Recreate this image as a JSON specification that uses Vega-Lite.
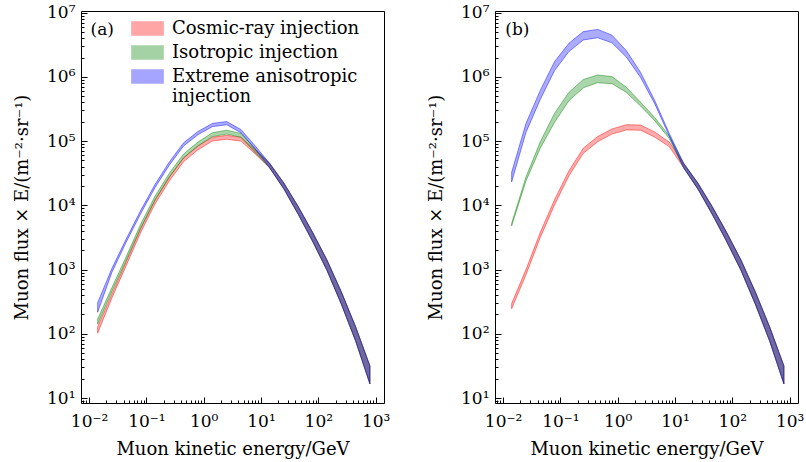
{
"$schema": "https://vega.github.io/schema/vega-lite/v6.json",
"padding": {"left": 13, "top": 3, "right": 5, "bottom": 5},
"spacing": 36,
"config": {
  "font": "DejaVu Serif",
  "view": {"stroke": "black", "strokeWidth": 1},
  "axis": {"grid": false, "domain": false, "labelFont": "DejaVu Serif", "labelFontSize": 17, "titleFont": "DejaVu Serif", "titleFontSize": 18, "titleFontWeight": "normal", "labelColor": "black", "titleColor": "black", "tickColor": "black", "tickWidth": 1, "labelOverlap": false, "labelFlush": false, "labelBound": false},
  "legend": {"labelFont": "DejaVu Serif", "labelFontSize": 18, "labelColor": "black"}
},
"datasets": {
"A": [
{"series":"Cosmic-ray injection","E":0.01413,"lower":102.3,"upper":128.8},
{"series":"Cosmic-ray injection","E":0.02512,"lower":363.1,"upper":416.9},
{"series":"Cosmic-ray injection","E":0.04467,"lower":1161,"upper":1334},
{"series":"Cosmic-ray injection","E":0.07943,"lower":3750,"upper":4305},
{"series":"Cosmic-ray injection","E":0.1413,"lower":10471,"upper":12023},
{"series":"Cosmic-ray injection","E":0.2512,"lower":23988,"upper":27542},
{"series":"Cosmic-ray injection","E":0.4467,"lower":47863,"upper":54954},
{"series":"Cosmic-ray injection","E":0.7943,"lower":73282,"upper":84140},
{"series":"Cosmic-ray injection","E":1.413,"lower":100000,"upper":114800},
{"series":"Cosmic-ray injection","E":2.512,"lower":107150,"upper":123030},
{"series":"Cosmic-ray injection","E":4.467,"lower":100000,"upper":114800},
{"series":"Cosmic-ray injection","E":7.943,"lower":63096,"upper":72440},
{"series":"Cosmic-ray injection","E":14.13,"lower":38500,"upper":45200},
{"series":"Cosmic-ray injection","E":25.12,"lower":17990,"upper":22130},
{"series":"Cosmic-ray injection","E":44.67,"lower":7244,"upper":9550},
{"series":"Cosmic-ray injection","E":79.43,"lower":2754,"upper":3802},
{"series":"Cosmic-ray injection","E":141.3,"lower":977,"upper":1413},
{"series":"Cosmic-ray injection","E":251.2,"lower":291.7,"upper":451.9},
{"series":"Cosmic-ray injection","E":446.7,"lower":77.6,"upper":128.8},
{"series":"Cosmic-ray injection","E":794.3,"lower":16.6,"upper":31.6},
{"series":"Isotropic injection","E":0.01413,"lower":141.3,"upper":169.8},
{"series":"Isotropic injection","E":0.02512,"lower":457.1,"upper":524.8},
{"series":"Isotropic injection","E":0.04467,"lower":1396,"upper":1603},
{"series":"Isotropic injection","E":0.07943,"lower":4406,"upper":5058},
{"series":"Isotropic injection","E":0.1413,"lower":12023,"upper":13804},
{"series":"Isotropic injection","E":0.2512,"lower":27542,"upper":31623},
{"series":"Isotropic injection","E":0.4467,"lower":54954,"upper":63096},
{"series":"Isotropic injection","E":0.7943,"lower":84140,"upper":96605},
{"series":"Isotropic injection","E":1.413,"lower":117490,"upper":134900},
{"series":"Isotropic injection","E":2.512,"lower":128800,"upper":147900},
{"series":"Isotropic injection","E":4.467,"lower":114800,"upper":131800},
{"series":"Isotropic injection","E":7.943,"lower":66070,"upper":75860},
{"series":"Isotropic injection","E":14.13,"lower":38500,"upper":45200},
{"series":"Isotropic injection","E":25.12,"lower":17990,"upper":22130},
{"series":"Isotropic injection","E":44.67,"lower":7244,"upper":9550},
{"series":"Isotropic injection","E":79.43,"lower":2754,"upper":3802},
{"series":"Isotropic injection","E":141.3,"lower":977,"upper":1413},
{"series":"Isotropic injection","E":251.2,"lower":291.7,"upper":451.9},
{"series":"Isotropic injection","E":446.7,"lower":77.6,"upper":128.8},
{"series":"Isotropic injection","E":794.3,"lower":16.6,"upper":31.6},
{"series":"Extreme anisotropic injection","E":0.01413,"lower":216.3,"upper":305.5},
{"series":"Extreme anisotropic injection","E":0.02512,"lower":912,"upper":1047},
{"series":"Extreme anisotropic injection","E":0.04467,"lower":2692,"upper":3020},
{"series":"Extreme anisotropic injection","E":0.07943,"lower":7396,"upper":8299},
{"series":"Extreme anisotropic injection","E":0.1413,"lower":18836,"upper":21135},
{"series":"Extreme anisotropic injection","E":0.2512,"lower":42170,"upper":47315},
{"series":"Extreme anisotropic injection","E":0.4467,"lower":84140,"upper":94406},
{"series":"Extreme anisotropic injection","E":0.7943,"lower":125900,"upper":141250},
{"series":"Extreme anisotropic injection","E":1.413,"lower":167900,"upper":188400},
{"series":"Extreme anisotropic injection","E":2.512,"lower":179900,"upper":201800},
{"series":"Extreme anisotropic injection","E":4.467,"lower":134900,"upper":151400},
{"series":"Extreme anisotropic injection","E":7.943,"lower":74990,"upper":84140},
{"series":"Extreme anisotropic injection","E":14.13,"lower":38500,"upper":45200},
{"series":"Extreme anisotropic injection","E":25.12,"lower":17990,"upper":22130},
{"series":"Extreme anisotropic injection","E":44.67,"lower":7244,"upper":9550},
{"series":"Extreme anisotropic injection","E":79.43,"lower":2754,"upper":3802},
{"series":"Extreme anisotropic injection","E":141.3,"lower":977,"upper":1413},
{"series":"Extreme anisotropic injection","E":251.2,"lower":291.7,"upper":451.9},
{"series":"Extreme anisotropic injection","E":446.7,"lower":77.6,"upper":128.8},
{"series":"Extreme anisotropic injection","E":794.3,"lower":16.6,"upper":31.6}
],
"B": [
{"series":"Cosmic-ray injection","E":0.01413,"lower":245.5,"upper":295.1},
{"series":"Cosmic-ray injection","E":0.02512,"lower":831.8,"upper":1000},
{"series":"Cosmic-ray injection","E":0.04467,"lower":3162,"upper":3802},
{"series":"Cosmic-ray injection","E":0.07943,"lower":10233,"upper":12303},
{"series":"Cosmic-ray injection","E":0.1413,"lower":28840,"upper":34674},
{"series":"Cosmic-ray injection","E":0.2512,"lower":64565,"upper":77625},
{"series":"Cosmic-ray injection","E":0.4467,"lower":97724,"upper":117490},
{"series":"Cosmic-ray injection","E":0.7943,"lower":128800,"upper":154900},
{"series":"Cosmic-ray injection","E":1.413,"lower":149600,"upper":179900},
{"series":"Cosmic-ray injection","E":2.512,"lower":147900,"upper":177800},
{"series":"Cosmic-ray injection","E":4.467,"lower":114800,"upper":138000},
{"series":"Cosmic-ray injection","E":7.943,"lower":82220,"upper":96605},
{"series":"Cosmic-ray injection","E":14.13,"lower":38500,"upper":45200},
{"series":"Cosmic-ray injection","E":25.12,"lower":17990,"upper":22130},
{"series":"Cosmic-ray injection","E":44.67,"lower":7244,"upper":9550},
{"series":"Cosmic-ray injection","E":79.43,"lower":2754,"upper":3802},
{"series":"Cosmic-ray injection","E":141.3,"lower":977,"upper":1413},
{"series":"Cosmic-ray injection","E":251.2,"lower":291.7,"upper":451.9},
{"series":"Cosmic-ray injection","E":446.7,"lower":77.6,"upper":128.8},
{"series":"Cosmic-ray injection","E":794.3,"lower":16.6,"upper":31.6},
{"series":"Isotropic injection","E":0.01413,"lower":4786,"upper":5248},
{"series":"Isotropic injection","E":0.02512,"lower":23988,"upper":27542},
{"series":"Isotropic injection","E":0.04467,"lower":77625,"upper":97724},
{"series":"Isotropic injection","E":0.07943,"lower":197200,"upper":272300},
{"series":"Isotropic injection","E":0.1413,"lower":426600,"upper":575400},
{"series":"Isotropic injection","E":0.2512,"lower":676100,"upper":912000},
{"series":"Isotropic injection","E":0.4467,"lower":812800,"upper":1071500},
{"series":"Isotropic injection","E":0.7943,"lower":785200,"upper":1011600},
{"series":"Isotropic injection","E":1.413,"lower":575400,"upper":691800},
{"series":"Isotropic injection","E":2.512,"lower":350800,"upper":402700},
{"series":"Isotropic injection","E":4.467,"lower":206500,"upper":231700},
{"series":"Isotropic injection","E":7.943,"lower":109600,"upper":120200},
{"series":"Isotropic injection","E":14.13,"lower":38500,"upper":45200},
{"series":"Isotropic injection","E":25.12,"lower":17990,"upper":22130},
{"series":"Isotropic injection","E":44.67,"lower":7244,"upper":9550},
{"series":"Isotropic injection","E":79.43,"lower":2754,"upper":3802},
{"series":"Isotropic injection","E":141.3,"lower":977,"upper":1413},
{"series":"Isotropic injection","E":251.2,"lower":291.7,"upper":451.9},
{"series":"Isotropic injection","E":446.7,"lower":77.6,"upper":128.8},
{"series":"Isotropic injection","E":794.3,"lower":16.6,"upper":31.6},
{"series":"Extreme anisotropic injection","E":0.01413,"lower":23174,"upper":32734},
{"series":"Extreme anisotropic injection","E":0.02512,"lower":136460,"upper":188360},
{"series":"Extreme anisotropic injection","E":0.04467,"lower":446700,"upper":616600},
{"series":"Extreme anisotropic injection","E":0.07943,"lower":1258900,"upper":1737800},
{"series":"Extreme anisotropic injection","E":0.1413,"lower":2483000,"upper":3350000},
{"series":"Extreme anisotropic injection","E":0.2512,"lower":3758000,"upper":5070000},
{"series":"Extreme anisotropic injection","E":0.4467,"lower":4074000,"upper":5495000},
{"series":"Extreme anisotropic injection","E":0.7943,"lower":3388000,"upper":4467000},
{"series":"Extreme anisotropic injection","E":1.413,"lower":2042000,"upper":2570000},
{"series":"Extreme anisotropic injection","E":2.512,"lower":977200,"upper":1175000},
{"series":"Extreme anisotropic injection","E":4.467,"lower":375800,"upper":421700},
{"series":"Extreme anisotropic injection","E":7.943,"lower":120200,"upper":131800},
{"series":"Extreme anisotropic injection","E":14.13,"lower":38500,"upper":45200},
{"series":"Extreme anisotropic injection","E":25.12,"lower":17990,"upper":22130},
{"series":"Extreme anisotropic injection","E":44.67,"lower":7244,"upper":9550},
{"series":"Extreme anisotropic injection","E":79.43,"lower":2754,"upper":3802},
{"series":"Extreme anisotropic injection","E":141.3,"lower":977,"upper":1413},
{"series":"Extreme anisotropic injection","E":251.2,"lower":291.7,"upper":451.9},
{"series":"Extreme anisotropic injection","E":446.7,"lower":77.6,"upper":128.8},
{"series":"Extreme anisotropic injection","E":794.3,"lower":16.6,"upper":31.6}
]
},
"resolve": {"scale": {"color": "independent", "stroke": "independent"}},
"hconcat": [
{
  "width": 303, "height": 392,
  "resolve": {"axis": {"x": "independent", "y": "independent"}},
  "layer": [
    {
      "data": {"name": "A"},
      "mark": {"type": "area", "fillOpacity": 0.33, "strokeOpacity": 0.45, "strokeWidth": 1},
      "encoding": {
        "x": {"field": "E", "type": "quantitative", "scale": {"type": "log", "domain": [0.00724, 1400], "nice": false},
          "axis": {"orient": "bottom", "title": "Muon kinetic energy/GeV", "titlePadding": 11,
            "values": [0.01,0.1,1,10,100,1000],
            "labelExpr": "datum.value==0.01?'10⁻²':datum.value==0.1?'10⁻¹':datum.value==1?'10⁰':datum.value==10?'10¹':datum.value==100?'10²':'10³'",
            "tickSize": -6, "labelPadding": 16}},
        "y": {"field": "upper", "type": "quantitative", "scale": {"type": "log", "domain": [8.36, 10620000], "nice": false},
          "axis": {"orient": "left", "title": "Muon flux × E/(m⁻²·sr⁻¹)", "titlePadding": 15,
            "values": [10,100,1000,10000,100000,1000000,10000000],
            "labelExpr": "datum.value==10?'10¹':datum.value==100?'10²':datum.value==1000?'10³':datum.value==10000?'10⁴':datum.value==100000?'10⁵':datum.value==1000000?'10⁶':'10⁷'",
            "tickSize": -6, "labelPadding": 12}},
        "y2": {"field": "lower"},
        "color": {"field": "series", "type": "nominal",
          "scale": {"domain": ["Cosmic-ray injection", "Isotropic injection", "Extreme anisotropic injection"], "range": ["#ff0000", "#008000", "#0000ff"]},
          "legend": {"orient": "none", "legendX": 57, "legendY": 8, "title": null, "symbolType": "M-1.8,-0.75H1.8V0.75H-1.8Z", "symbolSize": 300, "symbolOpacity": 0.35, "labelOffset": 15, "rowPadding": 5, "labelLimit": 400, "labelFontSize": 18,
            "labelExpr": "datum.label=='Extreme anisotropic injection'?['Extreme anisotropic','injection']:datum.label"}},
        "stroke": {"field": "series", "type": "nominal",
          "scale": {"domain": ["Cosmic-ray injection", "Isotropic injection", "Extreme anisotropic injection"], "range": ["#ff0000", "#008000", "#0000ff"]},
          "legend": {"orient": "none", "legendX": 57, "legendY": 8, "title": null, "symbolType": "M-1.8,-0.75H1.8V0.75H-1.8Z", "symbolSize": 300, "symbolOpacity": 0.35, "labelOffset": 15, "rowPadding": 5, "labelLimit": 400, "labelFontSize": 18,
            "labelExpr": "datum.label=='Extreme anisotropic injection'?['Extreme anisotropic','injection']:datum.label"}}
      }
    },
    {
      "data": {"values": [{"tag": "(a)"}]},
      "mark": {"type": "text", "fontSize": 17, "font": "DejaVu Serif", "color": "black", "align": "center", "baseline": "middle"},
      "encoding": {
        "x": {"datum": 0.017, "type": "quantitative",
          "axis": {"orient": "bottom", "title": null, "labels": false, "tickSize": -3,
            "values": [0.008,0.009,0.02,0.03,0.04,0.05,0.06,0.07,0.08,0.09,0.2,0.3,0.4,0.5,0.6,0.7,0.8,0.9,2,3,4,5,6,7,8,9,20,30,40,50,60,70,80,90,200,300,400,500,600,700,800,900]}},
        "y": {"datum": 5400000, "type": "quantitative",
          "axis": {"orient": "left", "title": null, "labels": false, "tickSize": -3,
            "values": [9,20,30,40,50,60,70,80,90,200,300,400,500,600,700,800,900,2000,3000,4000,5000,6000,7000,8000,9000,20000,30000,40000,50000,60000,70000,80000,90000,200000,300000,400000,500000,600000,700000,800000,900000,2000000,3000000,4000000,5000000,6000000,7000000,8000000,9000000]}},
        "text": {"field": "tag"}}
    }
  ]
},
{
  "width": 303, "height": 392,
  "resolve": {"axis": {"x": "independent", "y": "independent"}},
  "layer": [
    {
      "data": {"name": "B"},
      "mark": {"type": "area", "fillOpacity": 0.33, "strokeOpacity": 0.45, "strokeWidth": 1},
      "encoding": {
        "x": {"field": "E", "type": "quantitative", "scale": {"type": "log", "domain": [0.00724, 1400], "nice": false},
          "axis": {"orient": "bottom", "title": "Muon kinetic energy/GeV", "titlePadding": 11,
            "values": [0.01,0.1,1,10,100,1000],
            "labelExpr": "datum.value==0.01?'10⁻²':datum.value==0.1?'10⁻¹':datum.value==1?'10⁰':datum.value==10?'10¹':datum.value==100?'10²':'10³'",
            "tickSize": -6, "labelPadding": 16}},
        "y": {"field": "upper", "type": "quantitative", "scale": {"type": "log", "domain": [8.36, 10620000], "nice": false},
          "axis": {"orient": "left", "title": "Muon flux × E/(m⁻²·sr⁻¹)", "titlePadding": 15,
            "values": [10,100,1000,10000,100000,1000000,10000000],
            "labelExpr": "datum.value==10?'10¹':datum.value==100?'10²':datum.value==1000?'10³':datum.value==10000?'10⁴':datum.value==100000?'10⁵':datum.value==1000000?'10⁶':'10⁷'",
            "tickSize": -6, "labelPadding": 12}},
        "y2": {"field": "lower"},
        "color": {"field": "series", "type": "nominal",
          "scale": {"domain": ["Cosmic-ray injection", "Isotropic injection", "Extreme anisotropic injection"], "range": ["#ff0000", "#008000", "#0000ff"]},
          "legend": null},
        "stroke": {"field": "series", "type": "nominal",
          "scale": {"domain": ["Cosmic-ray injection", "Isotropic injection", "Extreme anisotropic injection"], "range": ["#ff0000", "#008000", "#0000ff"]},
          "legend": null}
      }
    },
    {
      "data": {"values": [{"tag": "(b)"}]},
      "mark": {"type": "text", "fontSize": 17, "font": "DejaVu Serif", "color": "black", "align": "center", "baseline": "middle"},
      "encoding": {
        "x": {"datum": 0.0178, "type": "quantitative",
          "axis": {"orient": "bottom", "title": null, "labels": false, "tickSize": -3,
            "values": [0.008,0.009,0.02,0.03,0.04,0.05,0.06,0.07,0.08,0.09,0.2,0.3,0.4,0.5,0.6,0.7,0.8,0.9,2,3,4,5,6,7,8,9,20,30,40,50,60,70,80,90,200,300,400,500,600,700,800,900]}},
        "y": {"datum": 5400000, "type": "quantitative",
          "axis": {"orient": "left", "title": null, "labels": false, "tickSize": -3,
            "values": [9,20,30,40,50,60,70,80,90,200,300,400,500,600,700,800,900,2000,3000,4000,5000,6000,7000,8000,9000,20000,30000,40000,50000,60000,70000,80000,90000,200000,300000,400000,500000,600000,700000,800000,900000,2000000,3000000,4000000,5000000,6000000,7000000,8000000,9000000]}},
        "text": {"field": "tag"}}
    }
  ]
}
]
}
